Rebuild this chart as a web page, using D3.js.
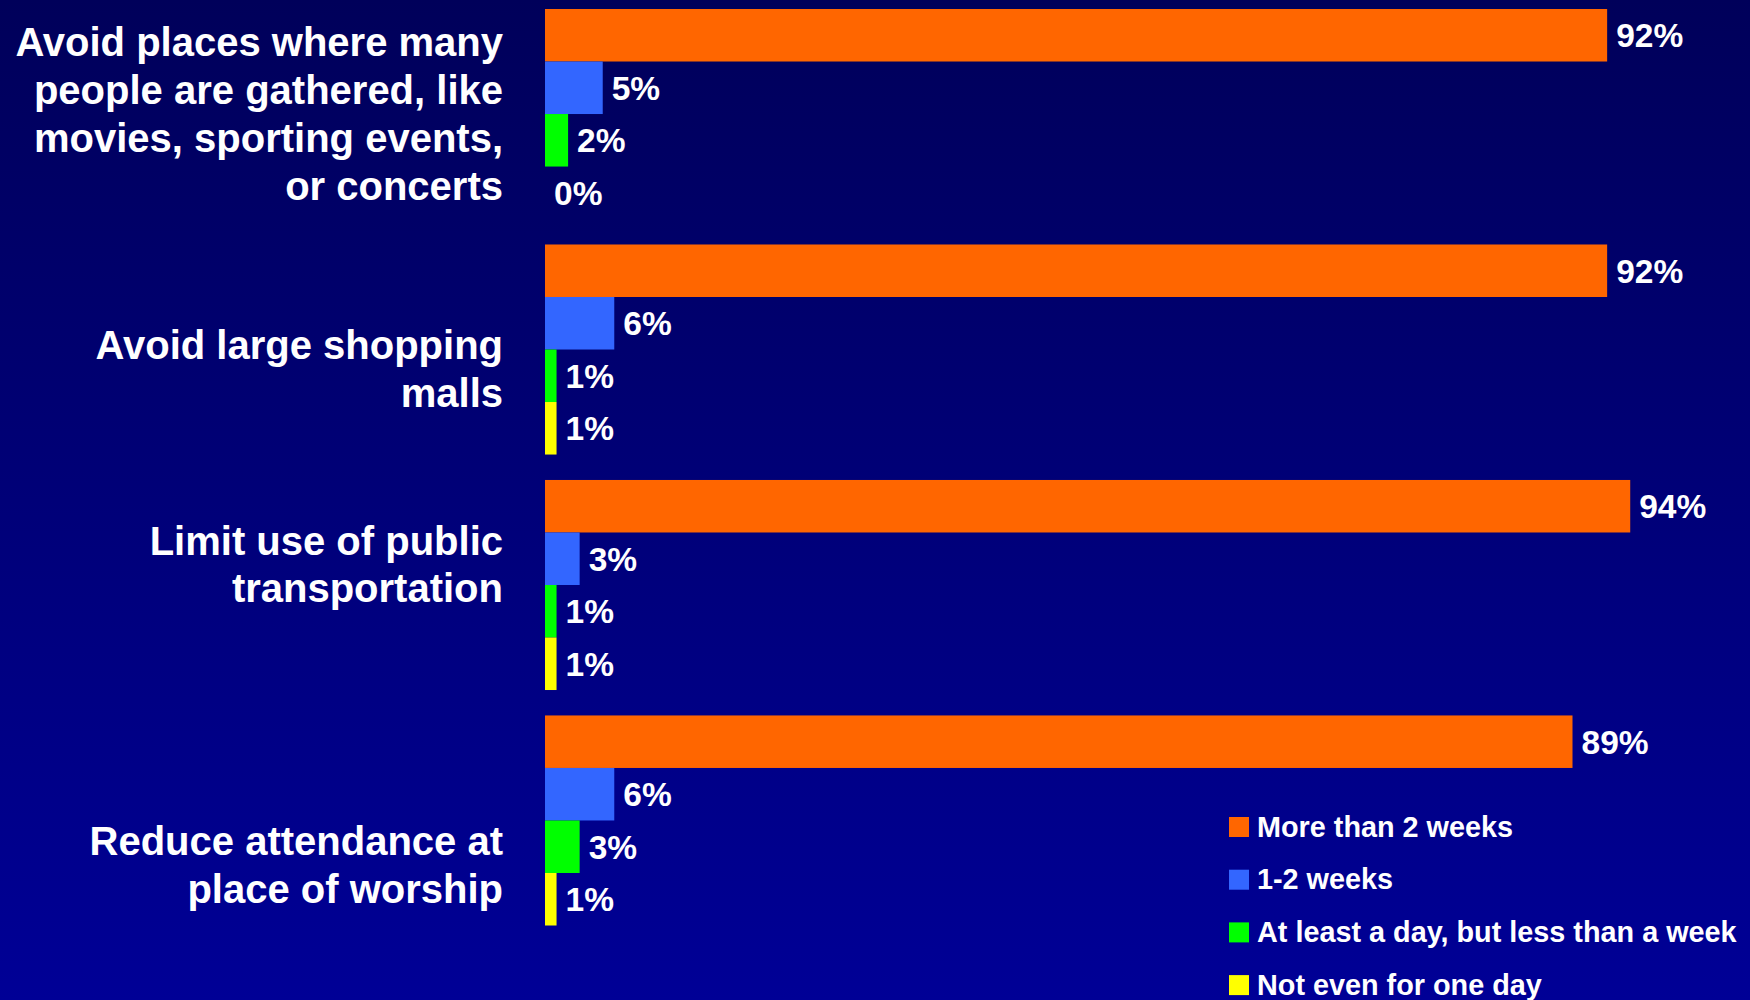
<!DOCTYPE html>
<html>
<head>
<meta charset="utf-8">
<script src="https://cdn.jsdelivr.net/npm/d3@7"></script>
<style>
  html, body { margin: 0; padding: 0; background: #000070; }
  svg { display: block; }
</style>
</head>
<body>
<svg id="chart" width="1750" height="1000"></svg>
<script>
// ---- data ----
const categories = [
  "Avoid places where many people are gathered, like movies, sporting events, or concerts",
  "Avoid large shopping malls",
  "Limit use of public transportation",
  "Reduce attendance at place of worship"
];
const categoryLines = [
  ["Avoid places where many", "people are gathered, like", "movies, sporting events,", "or concerts"],
  ["Avoid large shopping", "malls"],
  ["Limit use of public", "transportation"],
  ["Reduce attendance at", "place of worship"]
];
const series = ["More than 2 weeks", "1-2 weeks", "At least a day, but less than a week", "Not even for one day"];
const moreThan2Weeks = [92, 92, 94, 89];
const oneToTwoWeeks  = [5, 6, 3, 6];
const atLeastADay    = [2, 1, 1, 3];
const notEvenOneDay  = [0, 1, 1, 1];
const seriesValues = [moreThan2Weeks, oneToTwoWeeks, atLeastADay, notEvenOneDay];

// ---- style / layout ----
const colors = ["#FF6600", "#3366FF", "#00FF00", "#FFFF00"];
const labelShift = [0, 19.6, -20.4, 44.6]; // vertical offset of category label blocks
const W = 1750, H = 1000;

const svg = d3.select("#chart");
const defs = svg.append("defs");
const grad = defs.append("linearGradient").attr("id", "bg").attr("x1", 0).attr("y1", 0).attr("x2", 0).attr("y2", 1);
grad.append("stop").attr("offset", "0%").attr("stop-color", "#00005A");
grad.append("stop").attr("offset", "100%").attr("stop-color", "#000096");
svg.append("rect").attr("width", W).attr("height", H).attr("fill", "url(#bg)");

const x = d3.scaleLinear().domain([0, 100]).range([545, 1699.5]);
const y0 = d3.scaleBand().domain(categories).range([9, 925.5]).paddingInner(0.108).paddingOuter(0);
const y1 = d3.scaleBand().domain(series).range([0, y0.bandwidth()]).padding(0);

const font = "'Liberation Sans', Arial, Helvetica, sans-serif";

const groups = svg.selectAll("g.cat").data(categories).join("g")
  .attr("class", "cat")
  .attr("transform", d => `translate(0,${y0(d)})`);

groups.each(function(cat, ci) {
  const g = d3.select(this);
  const rows = series.map((s, si) => ({ s, si, v: seriesValues[si][ci] }));
  g.selectAll("rect").data(rows).join("rect")
    .attr("x", x(0))
    .attr("y", d => y1(d.s))
    .attr("width", d => x(d.v) - x(0))
    .attr("height", y1.bandwidth())
    .attr("fill", d => colors[d.si]);
  g.selectAll("text.val").data(rows).join("text")
    .attr("class", "val")
    .attr("x", d => x(d.v) + 9)
    .attr("y", d => y1(d.s) + y1.bandwidth() / 2 + 12)
    .attr("fill", "#fff")
    .attr("font-family", font)
    .attr("font-weight", "bold")
    .attr("font-size", 33.5)
    .text(d => d.v + "%");

  // category label
  const lines = categoryLines[ci];
  const lh = 47.7;
  const center = y0.bandwidth() / 2 + labelShift[ci];
  const first = center - (lines.length - 1) * lh / 2 + 14;
  const t = g.append("text")
    .attr("text-anchor", "end")
    .attr("fill", "#fff")
    .attr("font-family", font)
    .attr("font-weight", "bold")
    .attr("font-size", 40);
  lines.forEach((ln, li) => {
    t.append("tspan").attr("x", 503).attr("y", first + li * lh).text(ln);
  });
});

// legend
const legend = svg.append("g").attr("transform", "translate(1229,817)");
const lg = legend.selectAll("g").data(series).join("g")
  .attr("transform", (d, i) => `translate(0,${i * 52.7})`);
lg.append("rect").attr("width", 20).attr("height", 20).attr("fill", (d, i) => colors[i]);
lg.append("text")
  .attr("x", 28).attr("y", 19.5)
  .attr("fill", "#fff")
  .attr("font-family", font)
  .attr("font-weight", "bold")
  .attr("font-size", 28.8)
  .text(d => d);
</script>
</body>
</html>
